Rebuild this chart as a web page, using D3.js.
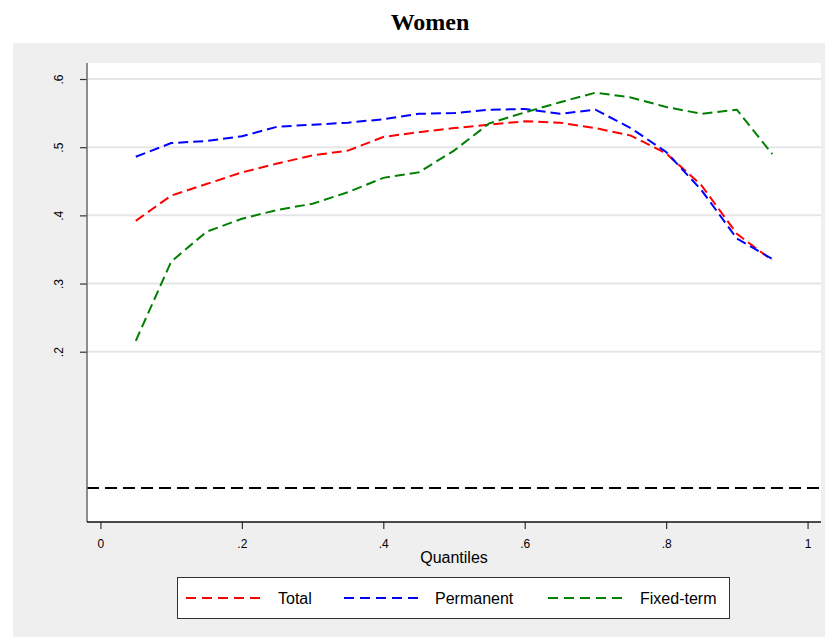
<!DOCTYPE html>
<html>
<head>
<meta charset="utf-8">
<script src="https://cdn.jsdelivr.net/npm/d3@7"></script>
<style>
  html, body { margin: 0; padding: 0; background: #ffffff; }
  svg { display: block; }
</style>
</head>
<body>
<svg id="chart" width="825" height="637"></svg>
<script>
const quantiles = [0.05,0.10,0.15,0.20,0.25,0.30,0.35,0.40,0.45,0.50,0.55,0.60,0.65,0.70,0.75,0.80,0.85,0.90,0.95];
const total     = [0.392,0.429,0.446,0.463,0.476,0.488,0.495,0.515,0.522,0.528,0.533,0.538,0.536,0.528,0.517,0.491,0.444,0.373,0.334];
const permanent = [0.486,0.506,0.509,0.516,0.530,0.533,0.536,0.541,0.549,0.550,0.555,0.556,0.549,0.555,0.528,0.493,0.437,0.366,0.336];
const fixedTerm = [0.216,0.332,0.376,0.395,0.408,0.417,0.434,0.455,0.463,0.495,0.535,0.551,0.566,0.580,0.573,0.559,0.549,0.555,0.490];
const seriesNames = ["Total","Permanent","Fixed-term"];
const seriesColors = ["#ff0000","#0000ff","#008000"];
const xTicks = [0,0.2,0.4,0.6,0.8,1];
const xTickLabels = ["0",".2",".4",".6",".8","1"];
const yTicks = [0.2,0.3,0.4,0.5,0.6];
const yTickLabels = [".2",".3",".4",".5",".6"];
const refLineValue = 0;
const titleText = "Women";
const xLabel = "Quantiles";

const svg = d3.select("#chart");
const W = 825, H = 637;
const plot = {left: 87, right: 821, top: 63, bottom: 522};

// outer gray panel
svg.append("rect").attr("x", 13).attr("y", 43).attr("width", W - 13).attr("height", H - 43).attr("fill", "#efefef");

// title
svg.append("text").attr("x", 430).attr("y", 30).attr("text-anchor", "middle")
  .attr("font-family", "'Liberation Serif', 'Times New Roman', serif").attr("font-weight", "bold")
  .attr("font-size", 24).attr("fill", "#000").text(titleText);

const x = d3.scaleLinear().domain([-0.019, 1.019]).range([plot.left, plot.right]);
const y = d3.scaleLinear().domain([-0.0498, 0.6235]).range([plot.bottom, plot.top]);

// plot background
svg.append("rect").attr("x", plot.left).attr("y", plot.top)
  .attr("width", plot.right - plot.left).attr("height", plot.bottom - plot.top).attr("fill", "#ffffff");

// gridlines
svg.append("g").selectAll("line").data(yTicks).join("line")
  .attr("x1", plot.left).attr("x2", plot.right)
  .attr("y1", d => y(d)).attr("y2", d => y(d))
  .attr("stroke", "#e6e6e6").attr("stroke-width", 2);

// reference dashed line
svg.append("line").attr("x1", plot.left).attr("x2", plot.right)
  .attr("y1", y(refLineValue)).attr("y2", y(refLineValue))
  .attr("stroke", "#000").attr("stroke-width", 2).attr("stroke-dasharray", "12,6");

// series lines
const allSeries = [total, permanent, fixedTerm];
const lineGen = d3.line().x((d, i) => x(quantiles[i])).y(d => y(d));
allSeries.forEach((s, k) => {
  svg.append("path").datum(s).attr("d", lineGen)
    .attr("fill", "none").attr("stroke", seriesColors[k]).attr("stroke-width", 2)
    .attr("stroke-dasharray", "10,5");
});

// y axis
const yAxis = d3.axisLeft(y).tickValues(yTicks).tickFormat((d, i) => yTickLabels[i]).tickSize(7).tickPadding(4);
const gy = svg.append("g").attr("transform", `translate(${plot.left},0)`).call(yAxis);
gy.select(".domain").remove();
gy.append("line").attr("x1", 0).attr("x2", 0).attr("y1", plot.top).attr("y2", plot.bottom)
  .attr("stroke", "#6a6a6a").attr("stroke-width", 1.5);
gy.selectAll(".tick line").attr("stroke", "#333").attr("stroke-width", 1.2);
gy.selectAll(".tick text")
  .attr("font-family", "Arial, 'Liberation Sans', sans-serif").attr("font-size", 12).attr("fill", "#000")
  .attr("text-anchor", "middle").attr("dy", "0.35em")
  .attr("transform", "translate(-28,0) rotate(-90)").attr("x", 0).attr("y", 0);

// x axis
const xAxis = d3.axisBottom(x).tickValues(xTicks).tickFormat((d, i) => xTickLabels[i]).tickSize(7).tickPadding(10);
const gx = svg.append("g").attr("transform", `translate(0,${plot.bottom})`).call(xAxis);
gx.select(".domain").remove();
gx.append("line").attr("x1", plot.left).attr("x2", plot.right).attr("y1", 0).attr("y2", 0)
  .attr("stroke", "#111").attr("stroke-width", 1.5);
gx.selectAll(".tick line").attr("stroke", "#333").attr("stroke-width", 1.2);
gx.selectAll(".tick text").attr("font-family", "Arial, 'Liberation Sans', sans-serif").attr("font-size", 12).attr("fill", "#000");

// x label
svg.append("text").attr("x", 454).attr("y", 563).attr("text-anchor", "middle")
  .attr("font-family", "Arial, 'Liberation Sans', sans-serif").attr("font-size", 16).attr("fill", "#000").text(xLabel);

// legend
const legend = svg.append("g");
legend.append("rect").attr("x", 177.5).attr("y", 577.5).attr("width", 552).attr("height", 41)
  .attr("fill", "#fff").attr("stroke", "#333").attr("stroke-width", 1);
const legendSampleX = [186, 344, 548];
const legendTextX = [278, 435, 640];
seriesNames.forEach((name, k) => {
  legend.append("line").attr("x1", legendSampleX[k]).attr("x2", legendSampleX[k] + 80)
    .attr("y1", 598).attr("y2", 598)
    .attr("stroke", seriesColors[k]).attr("stroke-width", 2).attr("stroke-dasharray", "10,6");
  legend.append("text").attr("x", legendTextX[k]).attr("y", 604)
    .attr("font-family", "Arial, 'Liberation Sans', sans-serif").attr("font-size", 16).attr("fill", "#000").text(name);
});
</script>
</body>
</html>
